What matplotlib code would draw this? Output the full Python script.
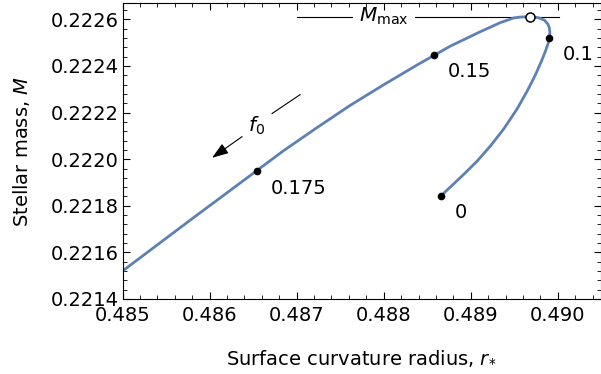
import matplotlib
matplotlib.use("Agg")
import matplotlib.pyplot as plt
from matplotlib.ticker import MultipleLocator, FormatStrFormatter

# Curve (f0 increasing from 0 at the lower end, through M_max, down to the left)
r_curve = [0.488661, 0.488764, 0.488917, 0.489071, 0.489224, 0.489377, 0.489531,
           0.489649, 0.489741, 0.489810, 0.489856, 0.489889, 0.489903, 0.489908,
           0.489903, 0.489887, 0.489845, 0.489779, 0.489684, 0.489569, 0.489492,
           0.489339, 0.489186, 0.489109, 0.488764, 0.488580, 0.488382, 0.487998,
           0.487615, 0.487232, 0.486848, 0.486543, 0.485776, 0.485000]
M_curve = [0.221844, 0.221880, 0.221934, 0.221991, 0.222056, 0.222129, 0.222215,
           0.222293, 0.222361, 0.222419, 0.222462, 0.222497, 0.222520, 0.222544,
           0.222563, 0.222579, 0.222597, 0.222607, 0.222612, 0.222610, 0.222606,
           0.222586, 0.222560, 0.222547, 0.222485, 0.222446, 0.222404, 0.222319,
           0.222231, 0.222135, 0.222036, 0.221951, 0.221738, 0.221520]

# Labelled f0 points
f0_labels = ["0", "0.1", "0.15", "0.175"]
r_pts = [0.488661, 0.489903, 0.488580, 0.486543]
M_pts = [0.221844, 0.222520, 0.222446, 0.221951]

# Maximum mass point
r_max = 0.489684
M_max = 0.222612

x_ticks = [0.485, 0.486, 0.487, 0.488, 0.489, 0.490]
y_ticks = [0.2214, 0.2216, 0.2218, 0.2220, 0.2222, 0.2224, 0.2226]

W, H = 601, 374
fig = plt.figure(figsize=(W / 100, H / 100), dpi=100)
ax = fig.add_axes([122.5 / W, (H - 299) / H, (600.5 - 122.5) / W, (299 - 3.3) / H])

color = "#5E81B5"
ax.plot(r_curve, M_curve, color=color, lw=2.0, zorder=2,
        solid_capstyle="round", solid_joinstyle="round")
ax.plot(r_pts, M_pts, "o", color="black", ms=4.5, zorder=3)
ax.plot([r_max], [M_max], "o", mfc="white", mec="black", mew=1.1, ms=6.5, zorder=4)

# M_max line with a gap for the label
ax.plot([0.48700, 0.48764], [M_max, M_max], color="black", lw=0.8, zorder=1)
ax.plot([0.48836, 0.49001], [M_max, M_max], color="black", lw=0.8, zorder=1)
ax.text(0.48800, M_max, r"$M_{\rm max}$", fontsize=14.5, ha="center", va="center")

# point labels
lab_pos = {"0": (0.488885, 0.221770), "0.1": (0.490235, 0.222450),
           "0.15": (0.488990, 0.222377), "0.175": (0.487025, 0.221874)}
for lab in f0_labels:
    x, y = lab_pos[lab]
    ax.text(x, y, lab, fontsize=14, ha="center", va="center")

# f0 arrow
ax.plot([0.487040, 0.486718], [0.222277, 0.222196], color="black", lw=0.8)
ax.annotate("", xy=(0.486029, 0.222006), xytext=(0.486374, 0.222097),
            arrowprops=dict(arrowstyle="-|>,head_length=1.0,head_width=0.35",
                            color="black", lw=0.8, shrinkA=0, shrinkB=0))
ax.text(0.486534, 0.222144, r"$f_0$", fontsize=14.5, ha="center", va="center")

ax.set_xlim(0.485, 0.49049)
ax.set_ylim(0.2214, 0.222669)
ax.set_xticks(x_ticks)
ax.set_yticks(y_ticks)
ax.xaxis.set_major_formatter(FormatStrFormatter("%.3f"))
ax.yaxis.set_major_formatter(FormatStrFormatter("%.4f"))
ax.xaxis.set_minor_locator(MultipleLocator(0.0002))
ax.yaxis.set_minor_locator(MultipleLocator(0.00004))
ax.tick_params(which="both", direction="in", top=True, right=True, labelsize=14)
ax.tick_params(axis="x", pad=5)
ax.tick_params(axis="y", pad=3)
ax.tick_params(which="major", length=5, width=0.8)
ax.tick_params(which="minor", length=3, width=0.6)
for s in ax.spines.values():
    s.set_linewidth(0.8)

ax.set_xlabel(r"Surface curvature radius, $r_{\!*}$", fontsize=14, labelpad=17)
ax.set_ylabel(r"Stellar mass, $M$", fontsize=14, labelpad=13)

fig.savefig("out.png", dpi=100)
